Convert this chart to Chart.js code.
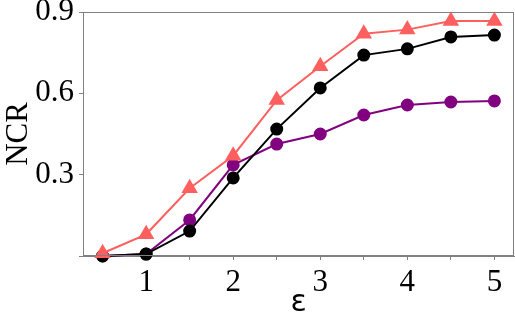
<!DOCTYPE html>
<html>
<head>
<meta charset="utf-8">
<script src="https://cdn.jsdelivr.net/npm/chart.js@4.4.1/dist/chart.umd.min.js"></script>
<style>
    html, body { margin: 0; padding: 0; background: #fff; }
    #wrap { width: 515px; height: 321px; }
</style>
</head>
<body>
<div id="wrap"><canvas id="ncrChart"></canvas></div>
<script>
// epsilon values on the x axis
const epsilons = [0.5, 1, 1.5, 2, 2.5, 3, 3.5, 4, 4.5, 5];

// NCR for each method
const redSeries = [0.01, 0.08, 0.25, 0.37, 0.575, 0.70, 0.82, 0.835, 0.867, 0.867];
const blackSeries = [0.0, 0.007, 0.092, 0.288, 0.468, 0.62, 0.741, 0.764, 0.808, 0.815];
const purpleSeries = [0.0, 0.007, 0.133, 0.336, 0.413, 0.45, 0.52, 0.557, 0.568, 0.572];

const yTickLabels = ['0.3', '0.6', '0.9'];

function toPoints(values) {
    return epsilons.map((x, i) => ({ x: x, y: values[i] }));
}

// draw the grey box around the plot area
const frameBox = {
    id: 'frameBox',
    afterDatasetsDraw(chart) {
        const { ctx, chartArea } = chart;
        ctx.save();
        ctx.strokeStyle = '#808080';
        ctx.lineWidth = 1;
        ctx.strokeRect(chartArea.left + 0.5, chartArea.top + 0.5,
            chartArea.right - chartArea.left - 1, chartArea.bottom - chartArea.top - 1);
        ctx.restore();
    }
};

const serif = "'Liberation Serif', 'Times New Roman', serif";

new Chart(document.getElementById('ncrChart').getContext('2d'), {
    type: 'line',
    data: {
        datasets: [
            {
                data: toPoints(purpleSeries),
                borderColor: '#800080',
                backgroundColor: '#800080',
                borderWidth: 2,
                pointStyle: 'circle',
                pointRadius: 5.5,
                clip: false,
                order: 3
            },
            {
                data: toPoints(blackSeries),
                borderColor: '#000000',
                backgroundColor: '#000000',
                borderWidth: 2,
                pointStyle: 'circle',
                pointRadius: 5.5,
                clip: false,
                order: 2
            },
            {
                data: toPoints(redSeries),
                borderColor: '#ff5f5f',
                backgroundColor: '#ff5f5f',
                borderWidth: 2,
                pointStyle: 'triangle',
                pointRadius: 7.5,
                clip: false,
                order: 1
            }
        ]
    },
    options: {
        responsive: true,
        maintainAspectRatio: false,
        animation: false,
        layout: { autoPadding: false, padding: { top: 12, right: 1, left: 0, bottom: 0 } },
        plugins: {
            legend: { display: false },
            tooltip: { enabled: false }
        },
        scales: {
            x: {
                type: 'linear',
                min: 0.275,
                max: 5.225,
                border: { display: true, color: '#808080' },
                grid: { drawOnChartArea: false, drawTicks: true, tickLength: 4, color: '#808080' },
                ticks: {
                    stepSize: 0.5,
                    includeBounds: false,
                    autoSkip: false,
                    maxRotation: 0,
                    padding: 4,
                    color: '#000',
                    font: { family: serif, size: 31 },
                    callback: (v) => Number.isInteger(v) ? String(v) : ''
                },
                title: {
                    display: true,
                    text: 'ε',
                    color: '#000',
                    font: { family: "'DejaVu Sans', sans-serif", size: 30 },
                    padding: { top: 0, bottom: 0 }
                },
                afterFit: (scale) => {
                    scale.height = 65;
                    scale.paddingLeft = 0;
                    scale.paddingRight = 0;
                }
            },
            y: {
                min: 0,
                max: 0.9,
                border: { display: true, color: '#808080' },
                grid: { drawOnChartArea: false, drawTicks: true, tickLength: 4, color: '#808080' },
                ticks: {
                    stepSize: 0.3,
                    padding: 5,
                    color: '#000',
                    font: { family: serif, size: 31 },
                    callback: (v) => {
                        const label = v.toFixed(1);
                        return yTickLabels.includes(label) ? label : '';
                    }
                },
                title: {
                    display: true,
                    text: 'NCR',
                    color: '#000',
                    font: { family: serif, size: 31 },
                    padding: { top: 0, bottom: 0 }
                },
                afterFit: (scale) => {
                    scale.width = 83;
                    scale.paddingTop = 0;
                    scale.paddingBottom = 0;
                }
            }
        }
    },
    plugins: [frameBox]
});
</script>
</body>
</html>
